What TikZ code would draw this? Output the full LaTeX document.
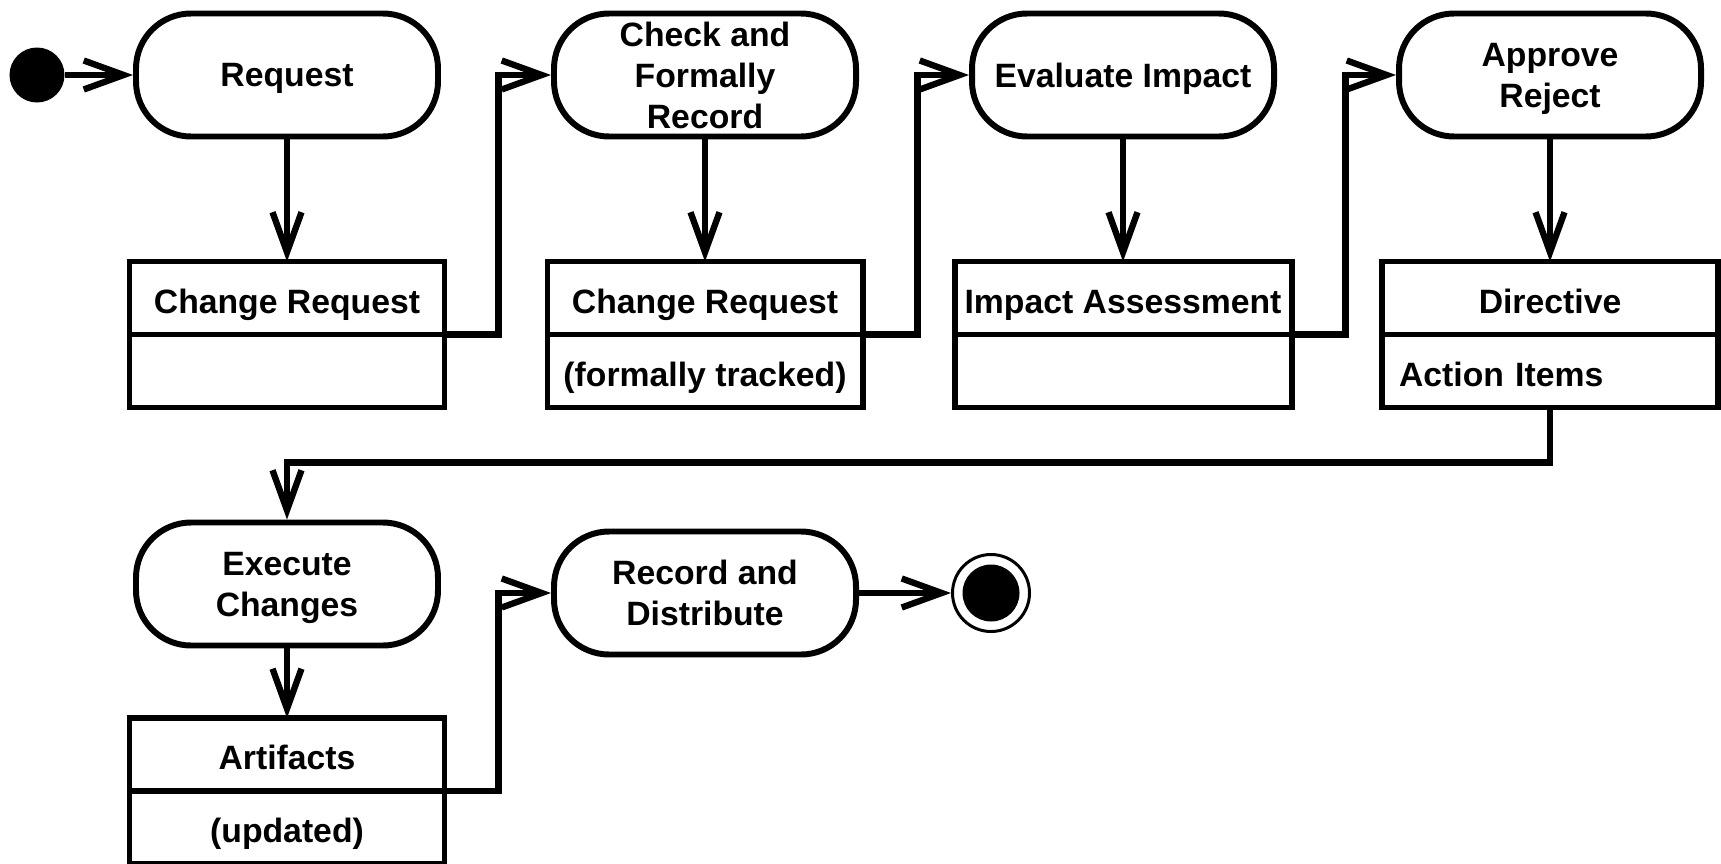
\documentclass[tikz,border=0pt]{standalone}
\usepackage{fontspec}
\setmainfont{Liberation Sans}
\usetikzlibrary{arrows.meta,positioning}

\begin{document}
\begin{tikzpicture}[
  every node/.style={font=\bfseries\fontsize{9.6}{11.7}\selectfont},
  action/.style={draw, line width=1.7pt, rounded corners=0.55cm, minimum width=3.02cm,
    minimum height=1.23cm, align=center, inner xsep=2pt, inner ysep=0pt, text depth=0pt},
  objtop/.style={draw, line width=1.7pt, minimum width=3.15cm, minimum height=0.73cm,
    outer sep=0pt, inner sep=0pt, text height=8.6pt, text depth=0pt},
  flow/.style={line width=1.8pt, -{Straight Barb[length=4mm, width=2.9mm]}},
  startdot/.style={circle, fill=black, minimum size=0.55cm, inner sep=0pt},
  endring/.style={circle, draw, line width=0.85pt, minimum size=0.77cm, inner sep=0pt}
]
\useasboundingbox (0,0) rectangle (17.21,-8.63);

% ---- top row: actions ----
\node[startdot] (init) at (0.37,-0.75) {};
\node[action] (req) at (2.87,-0.75) {Request};
\node[action] (chk) at (7.05,-0.75) {Check and\\Formally\\Record};
\node[action] (eval) at (11.23,-0.75) {Evaluate Impact};
\node[action] (appr) at (15.50,-0.75) {Approve\\Reject};

% ---- top row: objects ----
\node[objtop] (cr1) at (2.87,-2.98) {Change Request};
\node[objtop, below=0pt of cr1] (cr1b) {};

\node[objtop] (cr2) at (7.05,-2.98) {Change Request};
\node[objtop, below=0pt of cr2] (cr2b) {(formally tracked)};

\node[objtop, minimum width=3.37cm] (ia) at (11.23,-2.98) {Impact Assessment};
\node[objtop, minimum width=3.37cm, below=0pt of ia] (iab) {};

\node[objtop, minimum width=3.36cm] (dir) at (15.50,-2.98) {Directive};
\node[objtop, below=0pt of dir, text width=3.02cm, align=left, inner xsep=0.17cm] (dirb) {Action Items};

% ---- bottom row ----
\node[action] (exe) at (2.87,-5.84) {Execute\\Changes};
\node[objtop] (art) at (2.87,-7.545) {Artifacts};
\node[objtop, below=0pt of art] (artb) {(updated)};

\node[action] (rec) at (7.05,-5.93) {Record and\\Distribute};
\node[endring] (final) at (9.91,-5.93) {};
\node[startdot, minimum size=0.57cm] at (final.center) {};

% ---- flows ----
\draw[flow] (init) -- (req);
\draw[flow] (req) -- (cr1);
\draw[flow] (cr1.south east) -- ++(0.54,0) |- (chk.west);
\draw[flow] (chk) -- (cr2);
\draw[flow] (cr2.south east) -- ++(0.55,0) |- (eval.west);
\draw[flow] (eval) -- (ia);
\draw[flow] (ia.south east) -- ++(0.54,0) |- (appr.west);
\draw[flow] (appr) -- (dir);
\draw[flow] (dirb.south) -- ++(0,-0.55) -| (exe.north);
\draw[flow] (exe) -- (art);
\draw[flow] (art.south east) -- ++(0.54,0) |- (rec.west);
\draw[flow] (rec) -- (final);

\end{tikzpicture}
\end{document}
